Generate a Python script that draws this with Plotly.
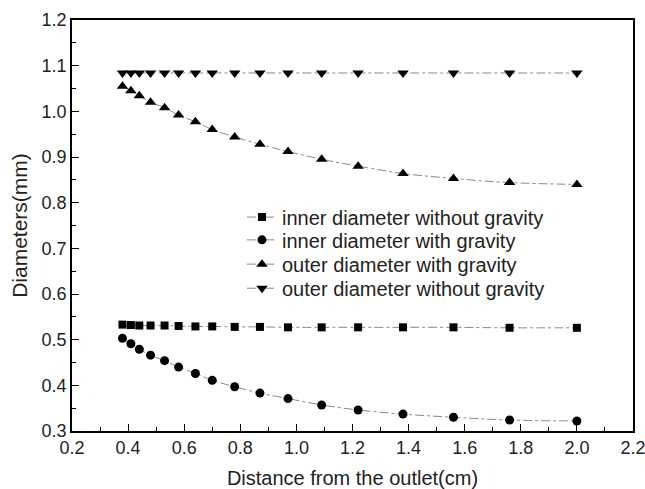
import plotly.graph_objects as go

x = [0.38, 0.41, 0.44, 0.48, 0.53, 0.58, 0.64, 0.70, 0.78, 0.87, 0.97, 1.09, 1.22, 1.38, 1.56, 1.76, 2.00]

inner_without = [0.533, 0.532, 0.531, 0.531, 0.531, 0.530, 0.529, 0.529, 0.528, 0.528, 0.527, 0.527, 0.527, 0.527, 0.527, 0.526, 0.526]
inner_with = [0.503, 0.491, 0.479, 0.466, 0.454, 0.440, 0.426, 0.411, 0.397, 0.383, 0.371, 0.357, 0.346, 0.337, 0.330, 0.324, 0.322]
outer_with = [1.055, 1.045, 1.034, 1.020, 1.008, 0.992, 0.977, 0.960, 0.944, 0.928, 0.912, 0.895, 0.880, 0.864, 0.853, 0.844, 0.840]
outer_without = [1.084, 1.084, 1.084, 1.084, 1.084, 1.084, 1.084, 1.084, 1.084, 1.084, 1.084, 1.084, 1.084, 1.084, 1.084, 1.084, 1.084]

names = ["inner diameter without gravity", "inner diameter with gravity",
         "outer diameter with gravity", "outer diameter without gravity"]
series = [inner_without, inner_with, outer_with, outer_without]
symbols = ["square", "circle", "triangle-up", "triangle-down"]
sizes = [8, 9, 10, 10]
legend_ids = ["legend", "legend2", "legend3", "legend4"]

FONT = "Liberation Sans, Arial, Helvetica, sans-serif"

fig = go.Figure()
for name, ys, sym, sz, lg in zip(names, series, symbols, sizes, legend_ids):
    fig.add_trace(go.Scatter(
        x=x, y=ys, name=name, mode="lines+markers", legend=lg, showlegend=True,
        line=dict(color="#8a8a8a", width=1, dash="dashdot", shape="spline"),
        marker=dict(symbol=sym, size=sz, color="black"),
    ))

axis_common = dict(
    showline=True, linecolor="black", linewidth=1.5, mirror=True,
    ticks="inside", ticklen=7, tickwidth=1, tickcolor="black",
    showgrid=False, zeroline=False, automargin=False,
    ticklabeloverflow="allow",
    tickfont=dict(family=FONT, size=18, color="#222"),
)

fig.update_xaxes(range=[0.2, 2.2], dtick=0.2, tick0=0.2, tickformat=".1f",
                 minor=dict(ticks="inside", ticklen=4, dtick=0.1, tickcolor="black"),
                 title=dict(text="Distance from the outlet(cm)", standoff=15,
                            font=dict(family=FONT, size=20, color="#222")),
                 **axis_common)
fig.update_yaxes(range=[0.3, 1.2], dtick=0.1, tick0=0.3, tickformat=".1f",
                 minor=dict(ticks="inside", ticklen=4, dtick=0.05, tickcolor="black"),
                 title=dict(text="Diameters(mm)", standoff=8,
                            font=dict(family=FONT, size=21, color="#222")),
                 **axis_common)

legend_style = dict(x=0.303, xanchor="left", yanchor="top", visible=True,
                    bgcolor="rgba(0,0,0,0)", font=dict(size=20, family=FONT, color="#222"),
                    itemwidth=30)
legend_tops = [0.568, 0.5125, 0.4534, 0.3948]

fig.update_layout(
    width=645, height=489,
    margin=dict(l=72, r=12, t=20, b=58),
    plot_bgcolor="white", paper_bgcolor="white",
    showlegend=True,
    font=dict(family=FONT, color="#222"),
    legend=dict(y=legend_tops[0], **legend_style),
    legend2=dict(y=legend_tops[1], **legend_style),
    legend3=dict(y=legend_tops[2], **legend_style),
    legend4=dict(y=legend_tops[3], **legend_style),
)

fig.write_html("out.html")
